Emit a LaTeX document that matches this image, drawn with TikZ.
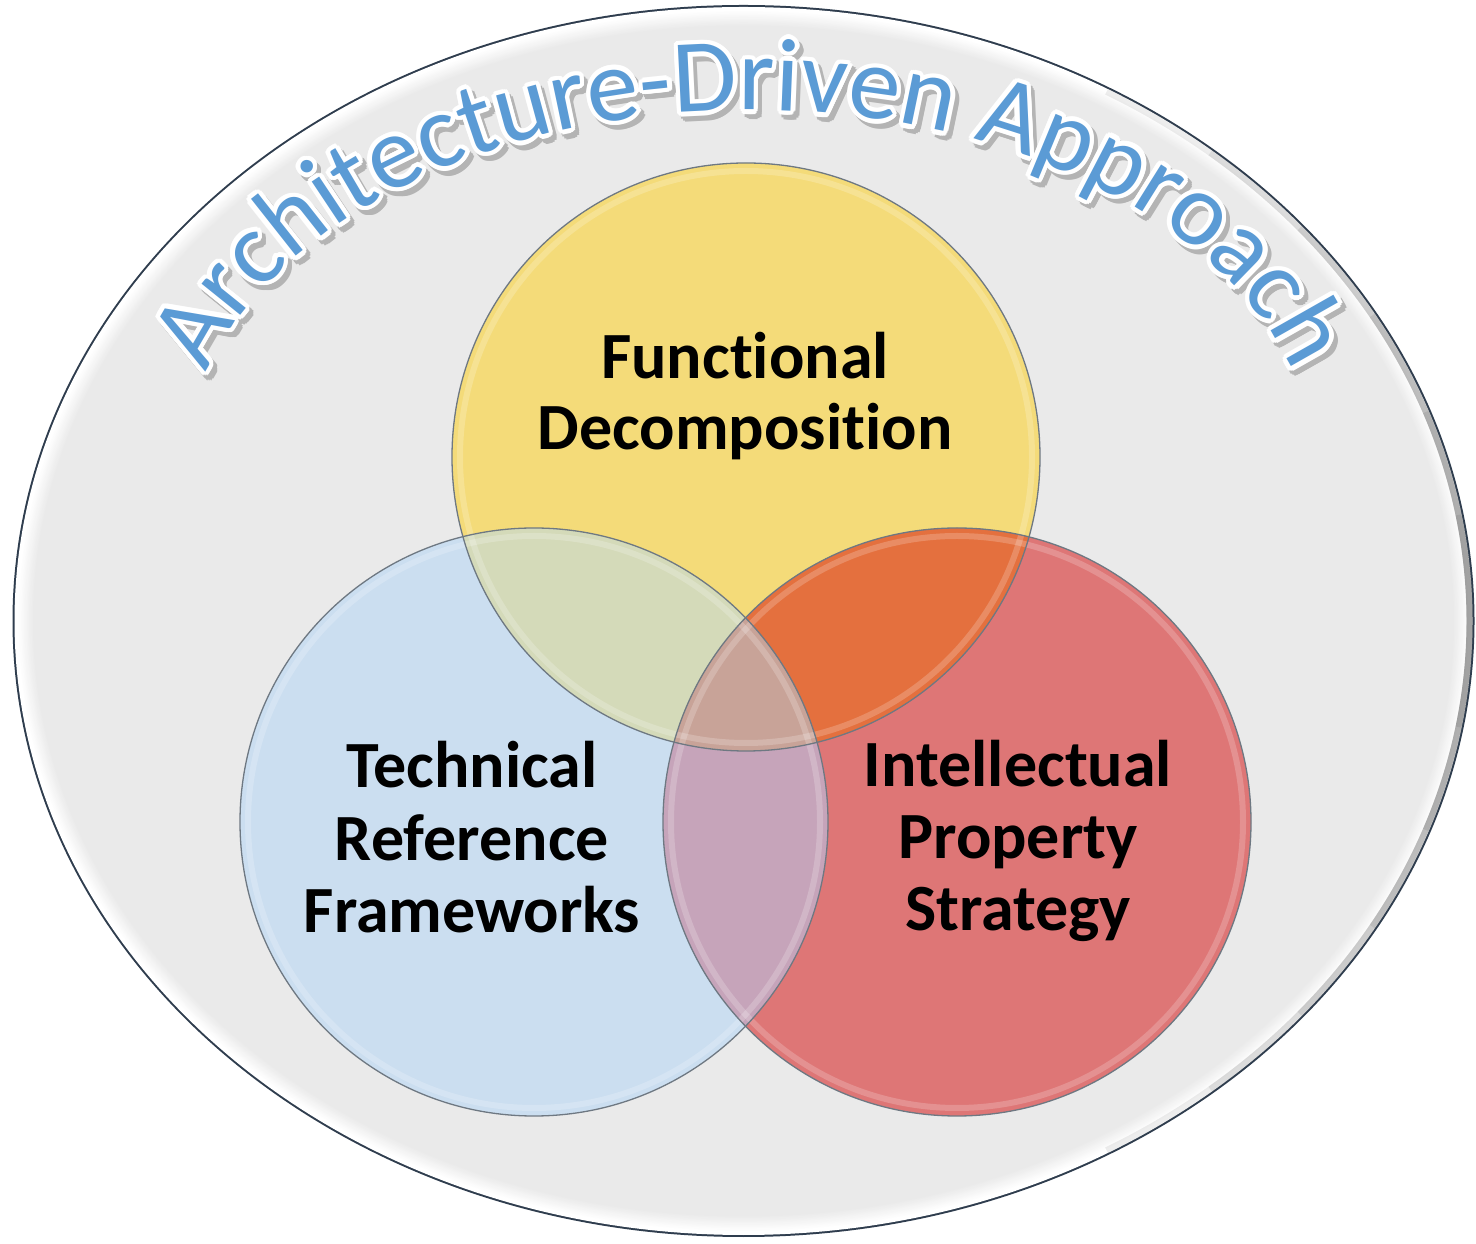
\documentclass[tikz,border=0pt]{standalone}
\usepackage{fontspec}
\setmainfont{Carlito}[Ligatures=NoCommon]
\usetikzlibrary{decorations.text}
\definecolor{ttlblue}{HTML}{5B9BD5}
\definecolor{bggray}{HTML}{EAEAEA}
\definecolor{rimdark}{HTML}{2F3D4E}
\definecolor{cyel}{HTML}{F4DB79}
\definecolor{cblue}{HTML}{CBDEF0}
\definecolor{cred}{HTML}{DE7676}
\definecolor{cyb}{HTML}{D4DAB9}
\definecolor{cyr}{HTML}{E4703E}
\definecolor{cbr}{HTML}{C6A4BA}
\definecolor{cybr}{HTML}{C8A398}
\definecolor{cline}{HTML}{6E7882}
\definecolor{shd}{HTML}{B4B4B4}
\newcommand\ttlfmt{\fontsize{104}{110}\selectfont}
\begin{document}
\begin{tikzpicture}[x=1pt,y=1pt,
  lbl/.style={font=\fontsize{66}{73}\selectfont\bfseries, anchor=base, inner sep=0pt},
  ttlpath/.style={decorate, decoration={text along path, text align=center,
      text={|\ttlfmt\color{#1}|Architecture-Driven Approach}}},
  hilite/.style={white, opacity=0.2, line width=6},
  rim/.style={cline, line width=1.3}]
\path[use as bounding box, fill=white] (0,0) rectangle (1476,1243);
% outer ellipse
\coordinate (E) at (743.5,622);
\fill[rimdark] (E) ellipse[x radius=731, y radius=616];
\fill[white] (E) ellipse[x radius=729, y radius=614];
\foreach \k in {0,...,12}{
  \pgfmathsetmacro\rx{726-1.3*\k}
  \pgfmathsetmacro\ry{611-1.3*\k}
  \pgfmathtruncatemacro\m{100*\k/12}
  \fill[bggray!\m!white] (E) ellipse[x radius=\rx, y radius=\ry];
}
\foreach \i in {1,...,6}{
  \draw[black, opacity=0.07, line width=6] (E) ++(-10*\i:726 and 611)
    arc[start angle=-10*\i, end angle=10*\i, x radius=726, y radius=611];
}
% title
\foreach \a in {0,30,...,330}{
  \path[ttlpath=shd, shift={(4,-5)}, shift={(\a:4.5)}] (185,770)
    arc[start angle=180, end angle=0, x radius=565, y radius=363];
}
\foreach \a in {0,22.5,...,337.5}{
  \path[ttlpath=white, shift={(\a:4.5)}] (185,770)
    arc[start angle=180, end angle=0, x radius=565, y radius=363];
}
\path[ttlpath=ttlblue] (185,770)
    arc[start angle=180, end angle=0, x radius=565, y radius=363];
% circles
\coordinate (Y) at (746,786);
\coordinate (B) at (534,421);
\coordinate (R) at (957,421);
\fill[cyel] (Y) circle[radius=294];
\fill[cblue] (B) circle[radius=294];
\fill[cred] (R) circle[radius=294];
\begin{scope}
  \clip (B) circle[radius=294];
  \fill[cbr] (R) circle[radius=294];
\end{scope}
\begin{scope}
  \clip (Y) circle[radius=294];
  \fill[cyb] (B) circle[radius=294];
  \fill[cyr] (R) circle[radius=294];
  \clip (B) circle[radius=294];
  \fill[cybr] (R) circle[radius=294];
\end{scope}
\draw[hilite] (Y) circle[radius=286];
\draw[hilite] (B) circle[radius=286];
\draw[hilite] (R) circle[radius=286];
\draw[rim] (Y) circle[radius=294];
\draw[rim] (B) circle[radius=294];
\draw[rim] (R) circle[radius=294];
% labels
\node[lbl] (fd1) at (745,864) {Functional};
\node[lbl] (fd2) at (745,793) {Decomposition};
\node[lbl] (tr1) at (472,455) {Technical};
\node[lbl] (tr2) at (472,382) {Reference};
\node[lbl] (tr3) at (472,310) {Frameworks};
\node[lbl] (ip1) at (1018,456) {Intellectual};
\node[lbl] (ip2) at (1018,384) {Property};
\node[lbl] (ip3) at (1018,312) {Strategy};
\end{tikzpicture}
\end{document}
